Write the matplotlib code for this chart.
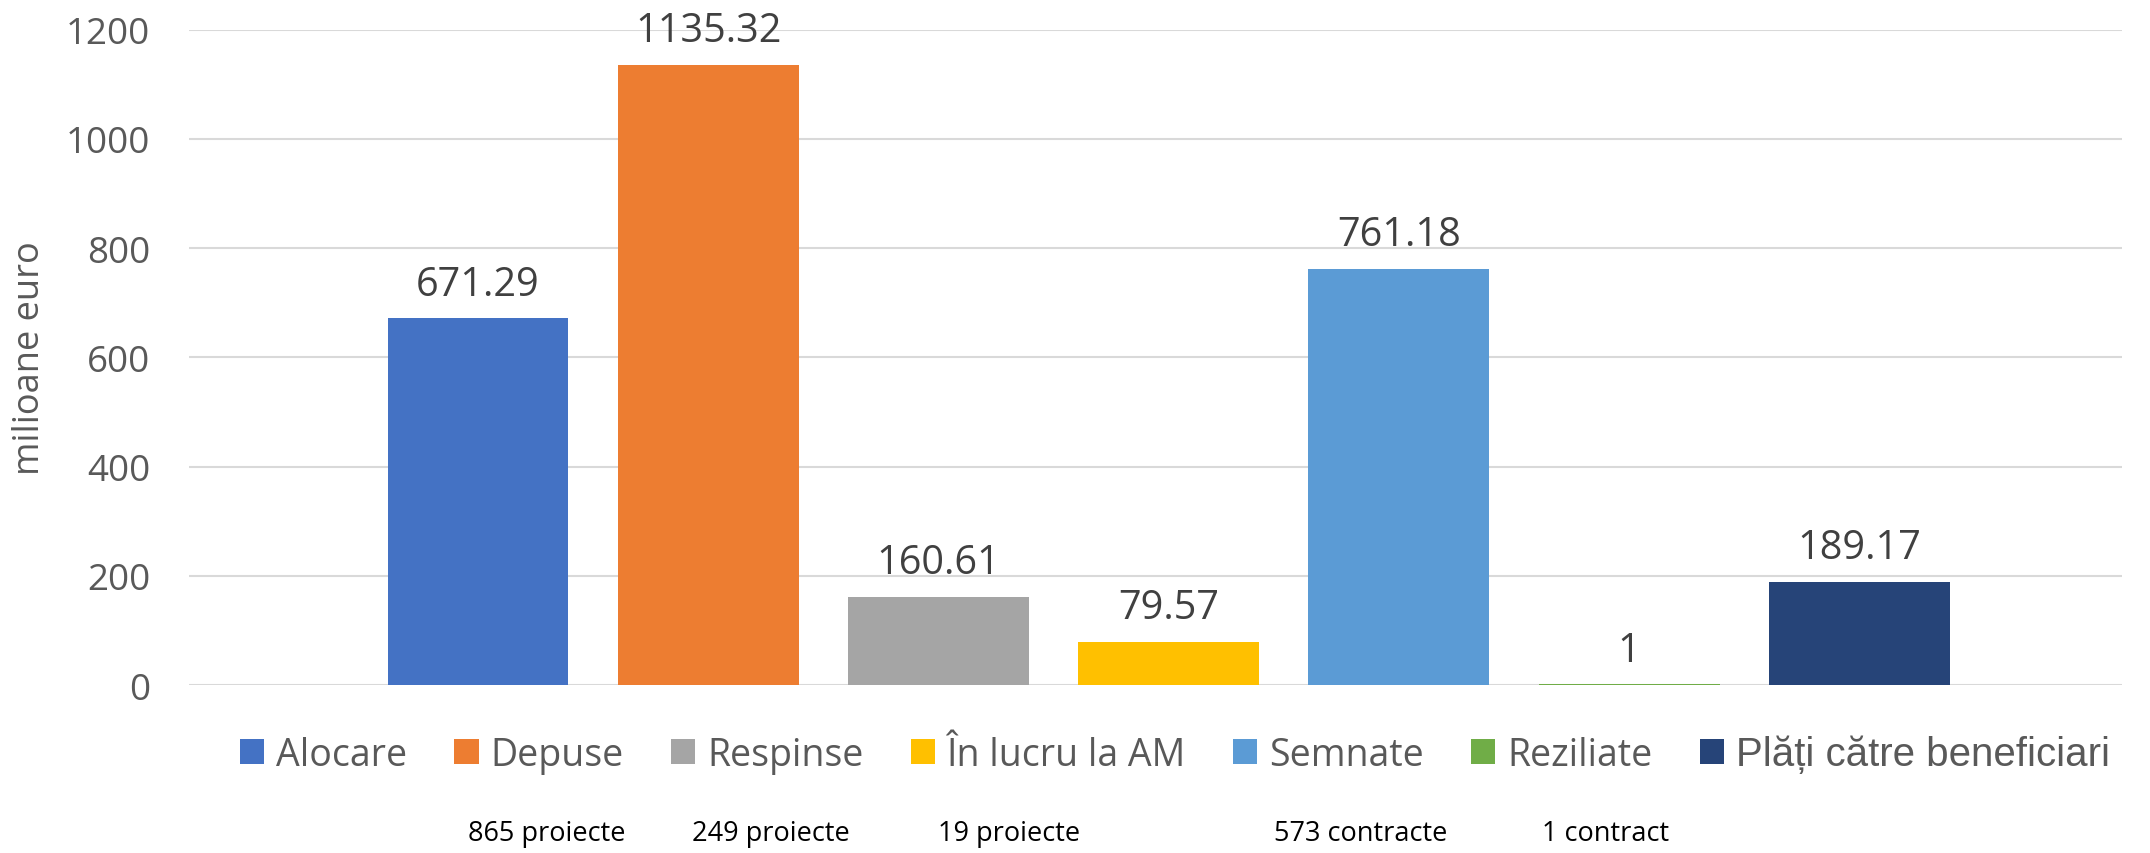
import matplotlib.pyplot as plt

# ---- data ----------------------------------------------------------------
series = ["Alocare", "Depuse", "Respinse", "În lucru la AM",
          "Semnate", "Reziliate", "Plăți către beneficiari"]
values = [671.29, 1135.32, 160.61, 79.57, 761.18, 1, 189.17]
value_labels = ["671.29", "1135.32", "160.61", "79.57", "761.18", "1", "189.17"]
colors = ["#4472C4", "#ED7D31", "#A5A5A5", "#FFC000",
          "#5B9BD5", "#70AD47", "#264478"]
y_ticks = [0, 200, 400, 600, 800, 1000, 1200]

# notes under the legend (text, x position in figure fraction)
notes = ["865 proiecte", "249 proiecte", "19 proiecte", "573 contracte", "1 contract"]
note_x = [0.2545, 0.3585, 0.4695, 0.633, 0.747]

plt.rcParams["font.family"] = ["Open Sans", "DejaVu Sans"]

fig = plt.figure(figsize=(21.5, 8.54), dpi=100)
ax = fig.add_axes([0.0879, 0.1967, 0.8991, 0.7673])

# one category, seven series side by side
handles = []
for i, (name, v, c, lab) in enumerate(zip(series, values, colors, value_labels)):
    b = ax.bar(i, v, width=0.786, color=c, label=name, zorder=3)
    ax.bar_label(b, labels=[lab], padding=10, fontsize=28.5, color="#404040")
    handles.append(b)

ax.set_xlim(-1.2554, 7.1416)
ax.set_ylim(0, 1200)
ax.set_yticks(y_ticks)
ax.set_xticks([])
ax.tick_params(axis="y", length=0, pad=28, labelsize=26.5, labelcolor="#595959")
ax.grid(axis="y", color="#D9D9D9", linewidth=1.5, zorder=0)
for s in ax.spines.values():
    s.set_visible(False)

ax.set_ylabel("milioane euro", fontsize=26, color="#595959")
ax.yaxis.set_label_coords(-0.073, 0.5)

leg = fig.legend(handles=handles, loc="center", bbox_to_anchor=(0.5465, 0.116),
                 ncol=7, frameon=False, fontsize=27, labelcolor="#595959",
                 handlelength=0.65, handleheight=0.65, handletextpad=0.32,
                 columnspacing=1.25, borderaxespad=0)
# the last legend entry uses a different font in the original
last = leg.get_texts()[-1]
last.set_fontfamily(["Liberation Sans", "DejaVu Sans"])
last.set_fontsize(29)

for txt, x in zip(notes, note_x):
    fig.text(x, 0.0234, txt, ha="center", va="center", fontsize=19.5, color="black")

fig.savefig("out.png", dpi=100)
